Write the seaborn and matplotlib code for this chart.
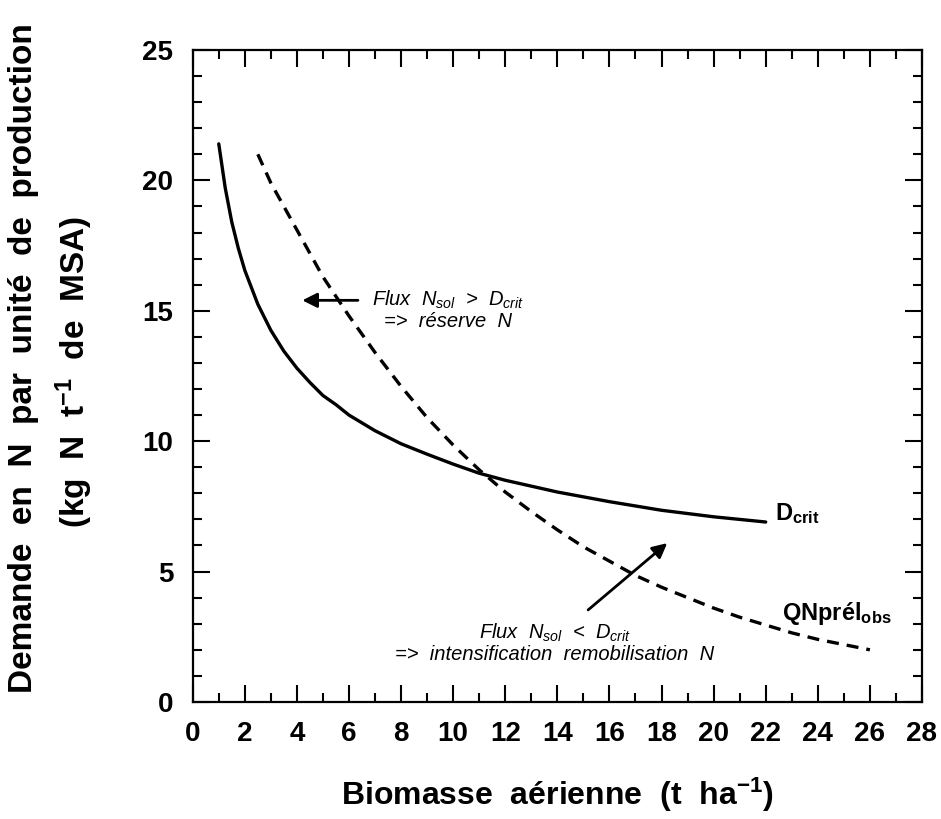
import matplotlib
matplotlib.use("Agg")
import matplotlib.pyplot as plt
import seaborn as sns
import pandas as pd
from matplotlib.ticker import MultipleLocator

# courbe critique D_crit
dcrit_x = [1, 1.25, 1.5, 1.75, 2, 2.5, 3, 3.5, 4, 4.5, 5, 5.5, 6, 6.5, 7, 7.5, 8, 9, 10,
           11, 12, 14, 16, 18, 20, 22]
dcrit_y = [21.4, 19.7, 18.4, 17.4, 16.55, 15.25, 14.25, 13.45, 12.8, 12.25, 11.75, 11.4, 11.0,
           10.7, 10.4, 10.15, 9.9, 9.5, 9.12, 8.77, 8.5, 8.05, 7.68, 7.35, 7.1, 6.9]

# prélèvement observé QNprél_obs
qn_x = [2.5, 3, 4, 5, 6, 7, 8, 9, 10, 11, 12, 13, 14, 15, 16, 17, 18, 19, 20, 21, 22, 23, 24, 25, 26]
qn_y = [21.0, 19.9, 18.1, 16.3, 14.8, 13.4, 12.1, 10.9, 9.85, 8.9, 8.05, 7.3, 6.6, 5.95,
        5.4, 4.85, 4.4, 4.0, 3.6, 3.25, 2.95, 2.65, 2.4, 2.2, 2.0]

x_ticks = list(range(0, 29, 2))
y_ticks = [0, 5, 10, 15, 20, 25]

sns.set_style("ticks")
plt.rcParams['font.family'] = ['Liberation Sans', 'DejaVu Sans']
plt.rcParams['mathtext.fontset'] = 'custom'
plt.rcParams['mathtext.rm'] = 'Liberation Sans'
plt.rcParams['mathtext.it'] = 'Liberation Sans:italic'
plt.rcParams['mathtext.bf'] = 'Liberation Sans:bold'
plt.rcParams['text.color'] = 'black'
plt.rcParams['xtick.color'] = 'black'
plt.rcParams['ytick.color'] = 'black'
plt.rcParams['xtick.labelcolor'] = 'black'
plt.rcParams['ytick.labelcolor'] = 'black'

df_d = pd.DataFrame({"x": dcrit_x, "y": dcrit_y})
df_q = pd.DataFrame({"x": qn_x, "y": qn_y})

fig = plt.figure(figsize=(9.41, 8.19), dpi=100)
ax = fig.add_axes([0.2048, 0.1429, 0.7750, 0.7961])

sns.lineplot(data=df_d, x="x", y="y", ax=ax, color="black", lw=2.4, sort=False)
sns.lineplot(data=df_q, x="x", y="y", ax=ax, color="black", lw=2.4, sort=False)
ax.lines[-1].set_dashes((3.6, 2.4))

ax.set_xlim(0, 28)
ax.set_ylim(0, 25)
ax.set_xticks(x_ticks)
ax.set_yticks(y_ticks)
ax.xaxis.set_minor_locator(MultipleLocator(1))
ax.yaxis.set_minor_locator(MultipleLocator(1))
ax.tick_params(which="both", direction="in", top=True, right=True, width=1.5,
               color="black")
ax.tick_params(which="major", length=12, labelsize=20, pad=14)
ax.tick_params(which="minor", length=6.5)
for lab in ax.get_xticklabels() + ax.get_yticklabels():
    lab.set_fontweight("bold")
for s in ax.spines.values():
    s.set_linewidth(1.6)
    s.set_color("black")

ax.set_xlabel("")
ax.set_ylabel("")
fig.text(0.5919, 1 - 795 / 819, r"Biomasse  aérienne  (t  ha$^{\mathbf{-1}}$)",
         ha="center", va="center", fontsize=23, fontweight="bold")
fig.text(24 / 941, 1 - 358 / 819, "Demande  en  N  par  unité  de  production",
         rotation=90, ha="center", va="center", fontsize=24, fontweight="bold")
fig.text(74 / 941, 1 - 372 / 819, r"(kg  N  t$^{\mathbf{-1}}$  de  MSA)",
         rotation=90, ha="center", va="center", fontsize=24, fontweight="bold")

# étiquettes des courbes
ax.text(22.34, 6.98, r"D$_{\mathbf{crit}}$", fontsize=17, fontweight="bold",
        ha="left", va="baseline")
ax.text(22.64, 3.14, r"QNprél$_{\mathbf{obs}}$", fontsize=17, fontweight="bold",
        ha="left", va="baseline")

# flèches et commentaires
ax.annotate("", xy=(4.1, 15.4), xytext=(6.45, 15.4),
            arrowprops=dict(arrowstyle="-|>", color="black", lw=2,
                            mutation_scale=22))
ax.text(9.79, 15.03, "Flux  $N_{sol}$  >  $D_{crit}$\n=>  réserve  N",
        fontsize=14.5, style="italic", ha="center", va="center", linespacing=1.05)

ax.annotate("", xy=(18.3, 6.16), xytext=(15.1, 3.46),
            arrowprops=dict(arrowstyle="-|>", color="black", lw=2,
                            mutation_scale=22))
ax.text(13.9, 2.26, "Flux  $N_{sol}$  <  $D_{crit}$\n=>  intensification  remobilisation  N",
        fontsize=14.5, style="italic", ha="center", va="center", linespacing=1.05)

fig.savefig("out.png", dpi=100)
